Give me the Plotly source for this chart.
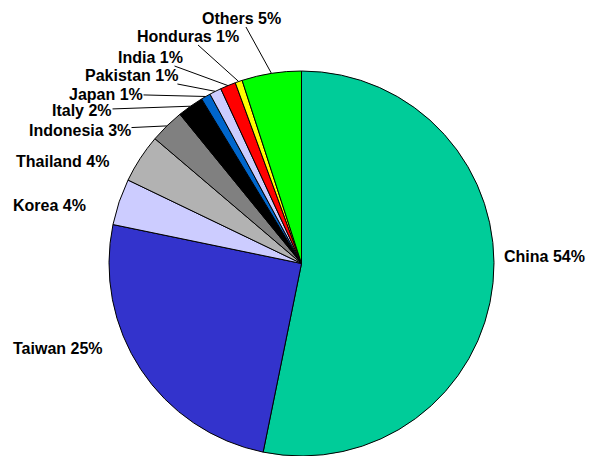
import math
import plotly.graph_objects as go

# ---- data ----
countries = ["China", "Taiwan", "Korea", "Thailand", "Indonesia", "Italy",
             "Japan", "Pakistan", "India", "Honduras", "Others"]
shares = [53.3, 25.1, 3.9, 4.1, 2.9, 2.2, 0.8, 1.0, 1.3, 0.6, 5.0]
pct_labels = ["54%", "25%", "4%", "4%", "3%", "2%", "1%", "1%", "1%", "1%", "5%"]
colors = ["#00CC99", "#3333CC", "#CCCCFF", "#B2B2B2", "#808080", "#000000",
          "#0066CC", "#CCCCFF", "#FF0000", "#FFFF00", "#00FF00"]

# ---- layout constants ----
W, H = 590, 456
ML, MR, MT, MB = 109, 96, 71, 0
# label centres in page pixels, and whether a leader line is drawn
label_px = [(544, 256), (58, 348), (49, 205), (62, 161), (80, 130), (82, 110),
            (106, 94), (131, 75), (150, 57), (188, 36), (241, 18)]
leader = [False, False, False, False, True, True, True, True, True, True, True]

fig = go.Figure(go.Pie(
    labels=countries, values=shares, sort=False, direction="clockwise",
    rotation=0, textinfo="none", hoverinfo="label+percent",
    marker=dict(colors=colors, line=dict(color="#000000", width=1)),
    domain=dict(x=[0, 1], y=[0, 1]), showlegend=False,
))

pw, ph = W - ML - MR, H - MT - MB
total = sum(shares)
cum = 0.0
annotations = []
for i, (name, v) in enumerate(zip(countries, shares)):
    mid = (cum + v / 2) / total
    cum += v
    ang = 2 * math.pi * mid
    xp = 0.5 + 0.5 * math.sin(ang)
    yp = 0.5 + 0.5 * math.cos(ang)
    ex = ML + pw * xp
    ey = MT + ph * (1 - yp)
    lx, ly = label_px[i]
    annotations.append(dict(
        x=xp, y=yp, xref="paper", yref="paper",
        ax=lx - ex, ay=ly - ey, axref="pixel", ayref="pixel",
        text=f"<b>{name} {pct_labels[i]}</b>", showarrow=True, arrowhead=0,
        arrowwidth=1,
        arrowcolor="#000000" if leader[i] else "rgba(0,0,0,0)",
        font=dict(family="Liberation Sans, Arial, sans-serif", size=16, color="#000000"),
        borderpad=0,
    ))

fig.update_layout(
    width=W, height=H,
    margin=dict(l=ML, r=MR, t=MT, b=MB),
    paper_bgcolor="#FFFFFF", plot_bgcolor="#FFFFFF",
    annotations=annotations,
)

fig.write_html(
    "out.html",
    config={"displayModeBar": False},
    post_script="document.body.style.margin='0';document.body.style.overflow='hidden';",
)
